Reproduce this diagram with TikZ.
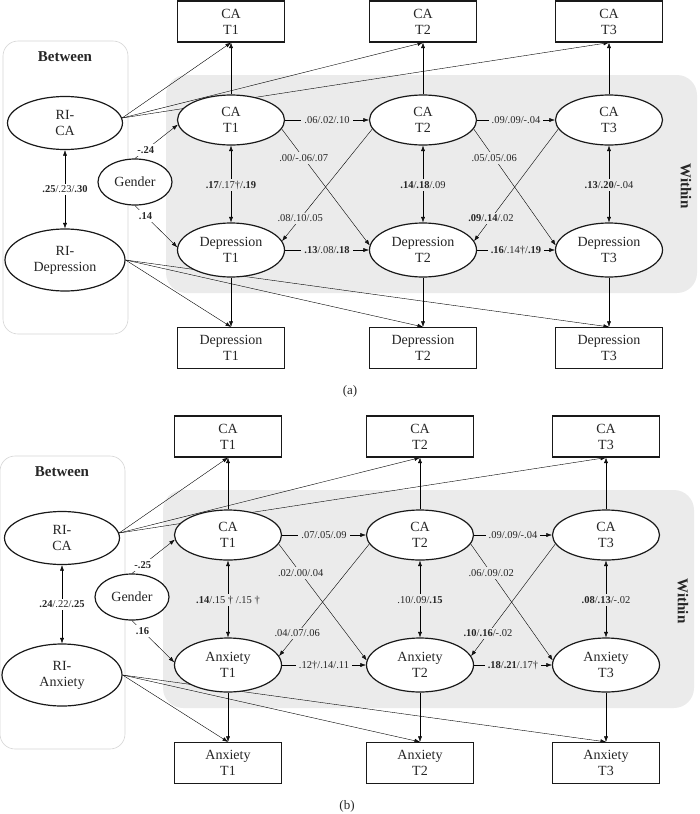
\documentclass[tikz,border=0pt]{standalone}
\usepackage{fontspec}
\setmainfont{Liberation Serif}
\usetikzlibrary{arrows.meta,shapes.geometric,calc,backgrounds}

\definecolor{withingray}{RGB}{235,235,235}
\definecolor{betweenline}{RGB}{212,212,212}
\newcommand{\sig}[1]{\textbf{#1}}

\tikzset{
  latent/.style={ellipse, draw, fill=white, inner sep=0pt, minimum width=107pt,
    minimum height=50pt, align=center, text=black!85, font=\fontsize{14}{16}\selectfont},
  observed/.style={rectangle, draw, fill=white, inner sep=0pt, minimum width=107pt,
    minimum height=41pt, align=center, text=black!85, font=\fontsize{14}{16}\selectfont},
  coef/.style={fill=withingray, inner xsep=3pt, inner ysep=2pt, text=black!85,
    font=\fontsize{10.5}{12}\selectfont},
  coefw/.style={coef, fill=white},
  regarrow/.style={-{Latex[length=5.5pt,width=4pt]}},
  covarrow/.style={{Latex[length=5.5pt,width=4pt]}-{Latex[length=5.5pt,width=4pt]}},
  paneltitle/.style={text=black!85, font=\bfseries\fontsize{15}{17}\selectfont},
}

\begin{document}
\begin{tikzpicture}[x=1pt, y=-1pt, line width=1.2pt, draw=black!90]
\useasboundingbox (0,0) rectangle (700,814);

% two panels: (a) depression, (b) anxiety
\foreach \p/\dx/\dy/\var in {a/0/0/Depression, b/-3/415/Anxiety}{
  \begin{scope}[shift={(\dx,\dy)}]
    \node[paneltitle] (\p-btw) at (65,57) {Between};
    \node[paneltitle, rotate=-90] (\p-wth) at (686,186) {Within};
    \node[latent, minimum width=115pt, minimum height=53pt] (\p-rica) at (65,123) {RI-\\CA};
    \node[latent, minimum width=120pt, minimum height=62pt] (\p-rivar) at (65,260) {RI-\\\var};
    \node[latent, minimum width=74pt, minimum height=46pt] (\p-gen) at (135,182) {Gender};
    \foreach \i/\x in {1/231,2/423,3/609}{
      \node[observed] (\p-oca\i) at (\x,21.5) {CA\\T\i};
      \node[latent] (\p-ca\i) at (\x,120) {CA\\T\i};
      \node[latent, minimum height=54pt] (\p-var\i) at (\x,250) {\var\\T\i};
      \node[observed] (\p-ovar\i) at (\x,348) {\var\\T\i};
    }
    \node[text=black!85, font=\fontsize{13}{15}\selectfont] (\p-cap) at (350,391) {(\p)};

    \begin{scope}[on background layer]
      \fill[withingray, rounded corners=20pt] (166,75) rectangle (697,293);
      \draw[betweenline, line width=0.6pt, rounded corners=15pt] (3,41) rectangle (128,334);
      % random intercepts
      \foreach \i in {1,2,3}{
        \draw[regarrow] (\p-rica.5) -- (\p-oca\i.south);
        \draw[regarrow] (\p-rivar.east) -- (\p-ovar\i.north);
        \draw[regarrow] (\p-ca\i) -- (\p-oca\i);
        \draw[regarrow] (\p-var\i) -- (\p-ovar\i);
        \draw[covarrow] (\p-ca\i) -- (\p-var\i);
      }
      \draw[covarrow] (\p-rica) -- (\p-rivar);
      \draw[regarrow] (\p-gen.north) -- (\p-ca1.185);
      \draw[regarrow] (\p-gen.south) -- (\p-var1.177);
      % autoregressive and cross-lagged paths
      \foreach \i/\j in {1/2,2/3}{
        \draw[regarrow] (\p-ca\i) -- (\p-ca\j);
        \draw[regarrow] (\p-var\i) -- (\p-var\j);
        \draw[regarrow] (\p-ca\i.350) -- (\p-var\j.175);
        \draw[regarrow] (\p-ca\j.190) -- (\p-var\i.10);
      }
    \end{scope}
  \end{scope}
}

% coefficients (a)
\node[coefw] (a-c0) at ($(a-rica.south)!.5!(a-rivar.north)$) {\sig{.25}/.23/\sig{.30}};
\node[coefw] (a-c1) at ($(a-gen.north)!.25!(a-ca1.185)$) {\sig{-.24}};
\node[coefw] (a-c2) at ($(a-gen.south)!.25!(a-var1.177)$) {\sig{.14}};
\node[coef] (a-c3) at ($(a-ca1)!.5!(a-var1)$) {\sig{.17}/.17\dag/\sig{.19}};
\node[coef] (a-c4) at ($(a-ca2)!.5!(a-var2)$) {\sig{.14}/\sig{.18}/.09};
\node[coef] (a-c5) at ($(a-ca3)!.5!(a-var3)$) {\sig{.13}/\sig{.20}/-.04};
\node[coef] (a-c6) at ($(a-ca1.east)!.5!(a-ca2.west)$) {.06/.02/.10};
\node[coef] (a-c7) at ($(a-ca2.east)!.5!(a-ca3.west)$) {.09/.09/-.04};
\node[coef] (a-c8) at ($(a-var1.east)!.5!(a-var2.west)$) {\sig{.13}/.08/\sig{.18}};
\node[coef] (a-c9) at ($(a-var2.east)!.5!(a-var3.west)$) {\sig{.16}/.14\dag/\sig{.19}};
\node[coef] (a-c10) at ($(a-ca1.350)!.25!(a-var2.175)$) {.00/-.06/.07};
\node[coef] (a-c11) at ($(a-var1.10)!.2!(a-ca2.190)$) {.08/.10/.05};
\node[coef] (a-c12) at ($(a-ca2.350)!.25!(a-var3.175)$) {.05/.05/.06};
\node[coef] (a-c13) at ($(a-var2.10)!.2!(a-ca3.190)$) {\sig{.09}/\sig{.14}/.02};

% coefficients (b)
\node[coefw] (b-c0) at ($(b-rica.south)!.5!(b-rivar.north)$) {\sig{.24}/.22/\sig{.25}};
\node[coefw] (b-c1) at ($(b-gen.north)!.25!(b-ca1.185)$) {\sig{-.25}};
\node[coefw] (b-c2) at ($(b-gen.south)!.25!(b-var1.177)$) {\sig{.16}};
\node[coef] (b-c3) at ($(b-ca1)!.5!(b-var1)$) {\sig{.14}/.15 \dag{} /.15 \dag};
\node[coef] (b-c4) at ($(b-ca2)!.5!(b-var2)$) {.10/.09/\sig{.15}};
\node[coef] (b-c5) at ($(b-ca3)!.5!(b-var3)$) {\sig{.08}/\sig{.13}/-.02};
\node[coef] (b-c6) at ($(b-ca1.east)!.5!(b-ca2.west)$) {.07/.05/.09};
\node[coef] (b-c7) at ($(b-ca2.east)!.5!(b-ca3.west)$) {.09/.09/-.04};
\node[coef] (b-c8) at ($(b-var1.east)!.5!(b-var2.west)$) {.12\dag/.14/.11};
\node[coef] (b-c9) at ($(b-var2.east)!.5!(b-var3.west)$) {\sig{.18}/\sig{.21}/.17\dag};
\node[coef] (b-c10) at ($(b-ca1.350)!.25!(b-var2.175)$) {.02/.00/.04};
\node[coef] (b-c11) at ($(b-var1.10)!.2!(b-ca2.190)$) {.04/.07/.06};
\node[coef] (b-c12) at ($(b-ca2.350)!.25!(b-var3.175)$) {.06/.09/.02};
\node[coef] (b-c13) at ($(b-var2.10)!.2!(b-ca3.190)$) {\sig{.10}/\sig{.16}/-.02};

\end{tikzpicture}
\end{document}
